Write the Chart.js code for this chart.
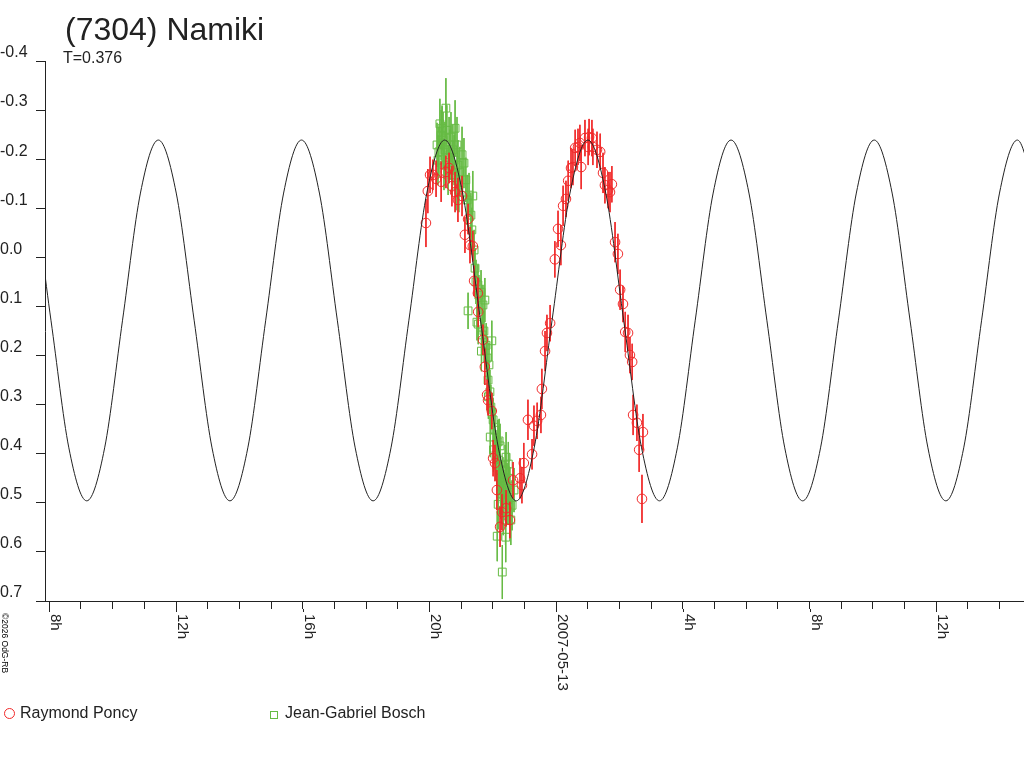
<!DOCTYPE html>
<html>
<head>
<meta charset="utf-8">
<title>(7304) Namiki</title>
<script src="https://cdn.jsdelivr.net/npm/chart.js@4.4.0/dist/chart.umd.min.js"></script>
<style>
  body { margin: 0; background: #fff; }
  #wrap { position: relative; width: 1024px; height: 768px; overflow: hidden; font-family: "Liberation Sans", Arial, sans-serif; color: #222; }
  #wrap canvas { position: absolute; left: 0; top: 0; }
  .txt { position: absolute; white-space: nowrap; }
  .title { left: 65px; top: 13px; font-size: 32px; line-height: 32px; }
  .period { left: 63px; top: 50px; font-size: 16px; line-height: 16px; }
  .legend { top: 705px; font-size: 16px; line-height: 16px; }
  .mark { position: absolute; box-sizing: border-box; }
  .copy { left: 8.5px; top: 613px; font-size: 8.5px; line-height: 9px; color: #000; transform-origin: 0 0; transform: rotate(90deg); }
</style>
</head>
<body>
<div id="wrap">
  <canvas id="lc" width="1024" height="768"></canvas>
  <div class="txt title">(7304) Namiki</div>
  <div class="txt period">T=0.376</div>
  <div class="mark" style="left:4px;top:708px;width:11px;height:11px;border:1px solid #f02828;border-radius:50%;"></div>
  <div class="txt legend" style="left:20px;">Raymond Poncy</div>
  <div class="mark" style="left:270px;top:711px;width:8px;height:8px;border:1px solid #66bb44;"></div>
  <div class="txt legend" style="left:285px;">Jean-Gabriel Bosch</div>
  <div class="txt copy">©2026 OdG-RB</div>
</div>
<script>
// hours counted from 2007-05-12 0h UT, magnitudes relative
const curveHours = [
  6.922, 7.487, 8.052, 8.617, 9.182, 9.747, 10.312, 10.877,
  11.442, 12.007, 12.572, 13.137, 13.702, 14.267, 14.832, 15.397,
  15.962, 16.527, 17.092, 17.657, 18.222, 18.787, 19.352, 19.917,
  20.482, 21.047, 21.612, 22.177, 22.742, 23.307, 23.872, 24.437,
  25.002, 25.567, 26.132, 26.697, 27.262, 27.827, 28.392, 28.957,
  29.522, 30.087, 30.652, 31.217, 31.782, 32.347, 32.912, 33.477,
  34.042, 34.607, 35.172, 35.737, 36.302, 36.867, 37.432, 37.997,
  38.562, 39.127
];
const curveMags = [
  -0.239, -0.131, 0.128, 0.388, 0.496, 0.388, 0.128, -0.131,
  -0.239, -0.131, 0.128, 0.388, 0.496, 0.388, 0.128, -0.131,
  -0.239, -0.131, 0.128, 0.388, 0.496, 0.388, 0.128, -0.131,
  -0.239, -0.131, 0.128, 0.388, 0.496, 0.388, 0.128, -0.131,
  -0.239, -0.131, 0.128, 0.388, 0.496, 0.388, 0.128, -0.131,
  -0.239, -0.131, 0.128, 0.388, 0.496, 0.388, 0.128, -0.131,
  -0.239, -0.131, 0.128, 0.388, 0.496, 0.388, 0.128, -0.131,
  -0.239, -0.131
];

// Raymond Poncy
const poncyHours = [
  19.89, 19.95, 20.02, 20.11, 20.21, 20.37, 20.52, 20.62, 20.71, 20.81,
  20.90, 21.03, 21.12, 21.22, 21.28, 21.37, 21.41, 21.53, 21.54, 21.69,
  21.75, 21.82, 21.85, 21.97, 22.01, 22.07, 22.13, 22.23, 22.29, 22.42,
  22.54, 22.64, 22.86, 22.92, 22.98, 23.11, 23.24, 23.30, 23.40, 23.52,
  23.55, 23.65, 23.71, 23.81, 23.96, 24.06, 24.15, 24.22, 24.31, 24.38,
  24.47, 24.53, 24.60, 24.69, 24.75, 24.79, 24.91, 25.01, 25.04, 25.13,
  25.16, 25.29, 25.39, 25.48, 25.54, 25.64, 25.70, 25.76, 25.86, 25.95,
  26.02, 26.11, 26.18, 26.27, 26.33, 26.40, 26.43, 26.55, 26.62, 26.71,
  26.74
];
const poncyMags = [
  -0.070, -0.135, -0.168, -0.168, -0.160, -0.154, -0.174, -0.182, -0.145, -0.133,
  -0.117, -0.125, -0.046, -0.078, -0.025, -0.023, 0.048, 0.073, 0.111, 0.168,
  0.223, 0.280, 0.291, 0.313, 0.409, 0.419, 0.474, 0.549, 0.519, 0.511,
  0.535, 0.454, 0.450, 0.464, 0.419, 0.331, 0.401, 0.343, 0.333, 0.321,
  0.268, 0.191, 0.154, 0.134, 0.004, -0.058, -0.025, -0.105, -0.119, -0.156,
  -0.182, -0.184, -0.223, -0.225, -0.233, -0.184, -0.243, -0.225, -0.245, -0.243,
  -0.225, -0.219, -0.215, -0.172, -0.147, -0.137, -0.133, -0.149, -0.031, -0.007,
  0.066, 0.095, 0.152, 0.154, 0.199, 0.213, 0.321, 0.337, 0.392, 0.492,
  0.356
];
const poncyErrs = [
  0.049, 0.045, 0.037, 0.031, 0.037, 0.041, 0.033, 0.031, 0.041, 0.041,
  0.045, 0.041, 0.037, 0.031, 0.037, 0.031, 0.031, 0.031, 0.031, 0.031,
  0.037, 0.031, 0.031, 0.037, 0.037, 0.037, 0.041, 0.041, 0.037, 0.037,
  0.037, 0.037, 0.041, 0.037, 0.041, 0.041, 0.031, 0.041, 0.037, 0.037,
  0.041, 0.041, 0.037, 0.037, 0.037, 0.037, 0.041, 0.041, 0.037, 0.041,
  0.041, 0.037, 0.037, 0.037, 0.037, 0.045, 0.037, 0.037, 0.037, 0.037,
  0.037, 0.037, 0.037, 0.041, 0.037, 0.037, 0.041, 0.037, 0.041, 0.041,
  0.041, 0.037, 0.041, 0.037, 0.037, 0.037, 0.041, 0.037, 0.045, 0.049,
  0.037
];

// Jean-Gabriel Bosch
const boschHours = [
  20.24, 20.27, 20.30, 20.33, 20.37, 20.40, 20.43, 20.46, 20.49, 20.52,
  20.55, 20.59, 20.62, 20.65, 20.68, 20.71, 20.74, 20.78, 20.81, 20.84,
  20.87, 20.90, 20.93, 20.96, 21.03, 21.09, 21.15, 21.19, 21.22, 21.25,
  21.31, 21.34, 21.37, 21.41, 21.44, 21.47, 21.50, 21.53, 21.54, 21.56,
  21.63, 21.64, 21.66, 21.69, 21.72, 21.75, 21.79, 21.82, 21.85, 21.86,
  21.88, 21.91, 21.92, 21.94, 21.97, 22.01, 22.02, 22.07, 22.10, 22.13,
  22.14, 22.16, 22.17, 22.18, 22.20, 22.21, 22.23, 22.24, 22.25, 22.26,
  22.29, 22.30, 22.32, 22.33, 22.35, 22.39, 22.40, 22.41, 22.42, 22.45,
  22.48, 22.49, 22.51, 22.54, 22.57, 22.61, 22.67
];
const boschMags = [
  -0.229, -0.198, -0.215, -0.272, -0.249, -0.263, -0.239, -0.188, -0.219, -0.304,
  -0.259, -0.178, -0.229, -0.209, -0.245, -0.168, -0.219, -0.198, -0.263, -0.147,
  -0.229, -0.188, -0.137, -0.174, -0.209, -0.192, -0.158, -0.117, 0.109, -0.127,
  -0.086, -0.056, -0.125, -0.015, 0.022, 0.050, 0.132, 0.056, 0.136, 0.077,
  0.071, 0.191, 0.158, 0.097, 0.150, 0.087, 0.179, 0.205, 0.250, 0.284,
  0.219, 0.274, 0.366, 0.305, 0.170, 0.331, 0.392, 0.352, 0.403, 0.423,
  0.568, 0.376, 0.503, 0.413, 0.374, 0.433, 0.384, 0.450, 0.482, 0.464,
  0.474, 0.641, 0.458, 0.515, 0.484, 0.433, 0.535, 0.570, 0.407, 0.470,
  0.494, 0.421, 0.450, 0.478, 0.535, 0.505, 0.474
];
const boschErrs = [
  0.045, 0.051, 0.051, 0.051, 0.051, 0.045, 0.057, 0.051, 0.057, 0.061,
  0.051, 0.051, 0.057, 0.051, 0.051, 0.045, 0.051, 0.051, 0.057, 0.051,
  0.057, 0.051, 0.045, 0.051, 0.057, 0.051, 0.045, 0.051, 0.037, 0.045,
  0.045, 0.045, 0.051, 0.041, 0.041, 0.045, 0.037, 0.041, 0.041, 0.041,
  0.045, 0.041, 0.041, 0.041, 0.041, 0.045, 0.045, 0.045, 0.041, 0.045,
  0.045, 0.045, 0.041, 0.045, 0.041, 0.045, 0.045, 0.045, 0.051, 0.051,
  0.051, 0.045, 0.051, 0.051, 0.045, 0.051, 0.045, 0.051, 0.051, 0.051,
  0.051, 0.055, 0.051, 0.051, 0.051, 0.051, 0.051, 0.051, 0.051, 0.051,
  0.051, 0.045, 0.051, 0.051, 0.051, 0.051, 0.045
];

const yMin = -0.4;
const yMax = 0.7;
const xMin = 7.864;
const xMax = 38.77;
const xLabelHours = [8, 12, 16, 20, 24, 28, 32, 36];
const xLabelTexts = ["8h", "12h", "16h", "20h", "2007-05-13", "4h", "8h", "12h"];

const RED = "#f02828";
const GREEN = "#66bb44";
const INK = "#222";
const FONT = '"Liberation Sans", Arial, sans-serif';

function toPoints(hours, mags) {
  return hours.map((h, i) => ({ x: h, y: mags[i] }));
}

// each error bar is a two point segment, null breaks the line between them
function errorSegments(hours, mags, errs) {
  const pts = [];
  hours.forEach((h, i) => {
    pts.push({ x: h, y: mags[i] - errs[i] }, { x: h, y: mags[i] + errs[i] }, { x: h, y: null });
  });
  return pts;
}

// labels read downwards under the axis, so they are drawn here
const xLabelPlugin = {
  id: "xLabels",
  afterDraw(chart) {
    const ctx = chart.ctx;
    const xs = chart.scales.x;
    ctx.save();
    ctx.font = "15px " + FONT;
    ctx.fillStyle = INK;
    ctx.strokeStyle = INK;
    ctx.lineWidth = 1;
    xLabelHours.forEach((h, i) => {
      const px = Math.round(xs.getPixelForValue(h)) + 0.5;
      ctx.beginPath();
      ctx.moveTo(px, xs.top + 8);
      ctx.lineTo(px, xs.top + 11);
      ctx.stroke();
      ctx.save();
      ctx.translate(px + 1, xs.top + 13);
      ctx.rotate(Math.PI / 2);
      ctx.textAlign = "left";
      ctx.textBaseline = "alphabetic";
      ctx.fillText(xLabelTexts[i], 0, 0);
      ctx.restore();
    });
    ctx.restore();
  }
};

new Chart(document.getElementById("lc"), {
  type: "scatter",
  data: {
    datasets: [
      {
        label: "fit",
        data: toPoints(curveHours, curveMags),
        showLine: true,
        borderColor: INK,
        borderWidth: 1,
        pointRadius: 0,
        cubicInterpolationMode: "monotone",
        order: 0
      },
      {
        label: "Raymond Poncy",
        data: toPoints(poncyHours, poncyMags),
        pointStyle: "circle",
        pointRadius: 4.8,
        pointBorderWidth: 1,
        pointBorderColor: RED,
        pointBackgroundColor: "rgba(0,0,0,0)",
        order: 1
      },
      {
        label: "Raymond Poncy errors",
        data: errorSegments(poncyHours, poncyMags, poncyErrs),
        showLine: true,
        spanGaps: false,
        borderColor: RED,
        borderWidth: 1,
        pointRadius: 0,
        order: 2
      },
      {
        label: "Jean-Gabriel Bosch",
        data: toPoints(boschHours, boschMags),
        pointStyle: "rect",
        pointRadius: 5.5,
        pointBorderWidth: 1,
        pointBorderColor: GREEN,
        pointBackgroundColor: "rgba(0,0,0,0)",
        order: 3
      },
      {
        label: "Jean-Gabriel Bosch errors",
        data: errorSegments(boschHours, boschMags, boschErrs),
        showLine: true,
        spanGaps: false,
        borderColor: GREEN,
        borderWidth: 1,
        pointRadius: 0,
        order: 4
      }
    ]
  },
  options: {
    responsive: false,
    animation: false,
    events: [],
    layout: { autoPadding: false, padding: { top: 61, left: 0, right: 0, bottom: 0 } },
    plugins: {
      legend: { display: false },
      tooltip: { enabled: false },
      title: { display: false }
    },
    scales: {
      x: {
        type: "linear",
        min: xMin,
        max: xMax,
        afterBuildTicks(scale) {
          const ticks = [];
          for (let h = 8; h <= 38; h++) ticks.push({ value: h });
          scale.ticks = ticks;
        },
        afterFit(scale) {
          scale.height = 167;
        },
        ticks: { display: false },
        grid: { drawOnChartArea: false, drawTicks: true, tickLength: 8, color: INK, tickColor: INK },
        border: { display: true, color: INK, width: 1 }
      },
      y: {
        type: "linear",
        reverse: true,
        min: yMin,
        max: yMax,
        afterFit(scale) {
          scale.width = 45;
        },
        ticks: {
          stepSize: 0.1,
          crossAlign: "far",
          labelOffset: -8,
          color: INK,
          font: { family: FONT, size: 16 },
          callback: (v) => (Math.round(v * 10) / 10).toFixed(1)
        },
        grid: { drawOnChartArea: false, drawTicks: true, tickLength: 9, color: INK, tickColor: INK },
        border: { display: true, color: INK, width: 1 }
      }
    }
  },
  plugins: [xLabelPlugin]
});
</script>
</body>
</html>
